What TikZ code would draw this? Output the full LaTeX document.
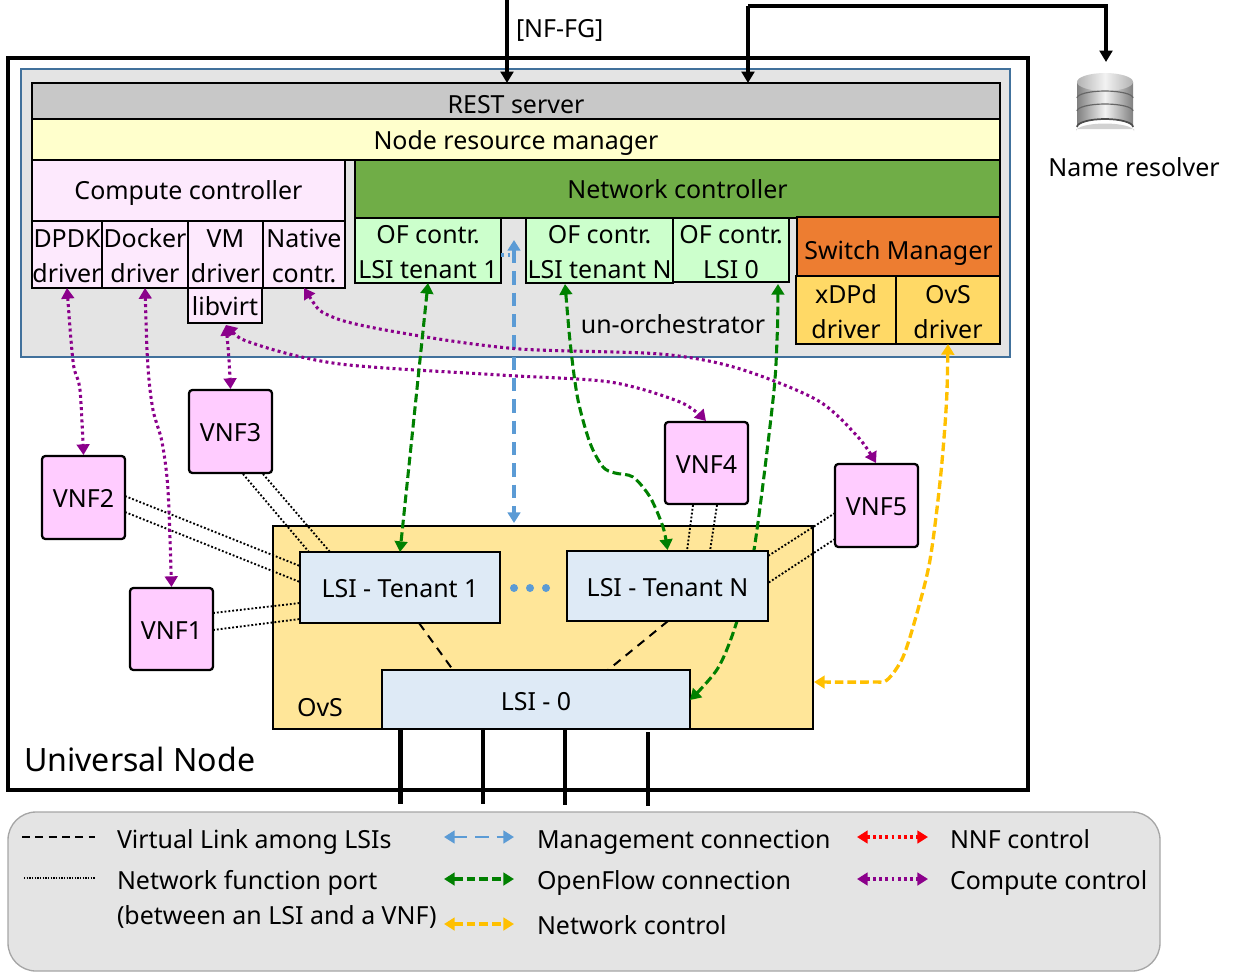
\documentclass[tikz,border=0pt]{standalone}
\usepackage{fontspec}
\setmainfont{Noto Sans}
\usetikzlibrary{arrows.meta,calc}
\definecolor{pur}{HTML}{8B008B}
\definecolor{grn}{HTML}{008000}
\definecolor{blu}{HTML}{5B9BD5}
\definecolor{yel}{HTML}{FFC000}
\definecolor{lsi}{HTML}{DEEAF6}
\definecolor{vnf}{HTML}{FFCCFF}
\definecolor{cmp}{HTML}{FDE9FD}
\definecolor{ofc}{HTML}{CCFFCC}
\definecolor{grey}{HTML}{E4E4E4}
\newcommand{\bx}[7]{\node[boxstyle,#6,minimum width={(#4-#2)*0.75pt},minimum height={(#5-#3)*0.75pt}] (#1) at ({(#2+#4)/2},{(#3+#5)/2}) {#7};}
\newcommand{\lowr}{\rule{0pt}{16.2pt}}
\tikzset{
 boxstyle/.style={draw=black,line width=1.7pt,inner sep=0pt,outer sep=0pt,align=center,font=\fontsize{18.7}{26.2}\selectfont},
 vnfbox/.style={fill=vnf,rounded corners=2.5pt,text height=15.2pt,text depth=0pt},
 lsitxt/.style={text height=15.5pt,text depth=0pt},
 lab/.style={inner sep=0pt,outer sep=0pt,font=\fontsize{18.7}{26}\selectfont},
 tipb/.style={{Triangle[length=8pt,width=9.5pt]}-{Triangle[length=8pt,width=9.5pt]}},
 compctl/.style={tipb,draw=pur,line width=2.3pt,dash pattern=on 2.2pt off 2.4pt},
 nnfctl/.style={tipb,draw=red,line width=2.3pt,dash pattern=on 2.2pt off 2.4pt},
 ofctl/.style={tipb,draw=grn,line width=2.3pt,dash pattern=on 6.5pt off 3pt},
 mgmt/.style={tipb,draw=blu,line width=2.5pt,dash pattern=on 10pt off 6pt},
 netctl/.style={tipb,draw=yel,line width=2.5pt,dash pattern=on 6.5pt off 3pt},
 nfport/.style={draw=black,line width=1.4pt,dash pattern=on 1.4pt off 1.5pt},
 vlink/.style={draw=black,line width=1.5pt,dash pattern=on 6.5pt off 5pt},
 rest/.style={-{Triangle[length=8.5pt,width=9.5pt]},draw=black,line width=2.4pt},
 phys/.style={draw=black,line width=3.7pt},
}
\begin{document}
\begin{tikzpicture}[x=0.75pt,y=-0.75pt]
\useasboundingbox (0,0) rectangle (1238,972);
% outer frames
\bx{un}{8}{58}{1028}{790}{line width=2.3pt}{}
\bx{uo}{21}{69}{1010}{357}{fill=grey,draw={rgb,255:red,65;green,113;blue,156},line width=1.6pt}{}
% top stack
\bx{restsrv}{32}{83}{1000}{119}{fill={rgb,255:red,200;green,200;blue,200}}{}
\node[lab,anchor=base] (resttxt) at (516,113) {REST server};
\bx{nrm}{32}{119}{1000}{160}{fill={rgb,255:red,255;green,255;blue,204},text height=15pt,text depth=0pt}{Node resource manager}
\bx{cc}{32}{160}{345}{221}{fill=cmp,text height=14pt,text depth=0pt}{Compute controller}
\bx{dpdk}{32}{221}{102}{288}{fill=cmp}{\lowr DPDK\\driver}
\bx{docker}{102}{221}{188}{288}{fill=cmp}{\lowr Docker\\driver}
\bx{vm}{188}{221}{263}{288}{fill=cmp}{\lowr VM\\driver}
\bx{native}{263}{221}{345}{288}{fill=cmp}{\lowr Native\\contr.}
\bx{libvirt}{188}{288}{262}{323}{fill=cmp,lsitxt}{libvirt}
\bx{nc}{355}{160}{1000}{218}{fill={rgb,255:red,112;green,173;blue,71}}{Network controller}
\bx{of1}{355}{218}{501}{283}{fill=ofc}{\lowr OF contr.\\LSI tenant 1}
\bx{ofn}{526}{218}{673}{283}{fill=ofc}{\lowr OF contr.\\LSI tenant N}
\bx{of0}{673}{218}{789}{282}{fill=ofc}{\lowr OF contr.\\LSI 0}
\bx{sm}{797}{217}{1000}{276}{fill={rgb,255:red,237;green,125;blue,49},text height=20pt,text depth=0pt}{Switch Manager}
\bx{xdpd}{796}{276}{896}{344}{fill={rgb,255:red,255;green,217;blue,102}}{\lowr xDPd\\driver}
\bx{ovsd}{896}{276}{1000}{344}{fill={rgb,255:red,255;green,217;blue,102}}{\lowr OvS\\driver}
\node[lab] (uotxt) at (673,324) {un-orchestrator};
% OvS
\bx{ovs}{273}{526}{813}{729}{fill={rgb,255:red,255;green,230;blue,153}}{}
\node[lab] (ovstxt) at (320,708) {OvS};
\node[lab,anchor=west,font=\fontsize{24.1}{28}\selectfont] (untxt) at (24,759) {Universal Node};
% VNFs
\bx{vnfthree}{189}{390}{272}{473}{vnfbox}{VNF3}
\bx{vnftwo}{42}{456}{125}{539}{vnfbox}{VNF2}
\bx{vnfone}{130}{588}{213}{670}{vnfbox}{VNF1}
\bx{vnffour}{665}{422}{748}{504}{vnfbox}{VNF4}
\bx{vnffive}{835}{464}{918}{547}{vnfbox}{VNF5}
% LSI 0 and the OpenFlow link that runs behind LSI tenant N
\bx{lsizero}{382}{670}{690}{729}{fill=lsi,text height=16pt,text depth=0pt}{LSI - 0}
\coordinate (ofzs) at (778,284);
\draw[ofctl] plot[smooth] coordinates {(ofzs) (777,340) (773,400) (754,550) (737,621) (718,668) (690,700)};
\bx{lsione}{300}{552}{500}{623}{fill=lsi,lsitxt}{LSI - Tenant 1}
\bx{lsin}{567}{551}{768}{621}{fill=lsi,lsitxt}{LSI - Tenant N}
% function ports
\draw[nfport] (243,474) -- (309,552);
\draw[nfport] (263,474) -- (330,552);
\draw[nfport] (125,496) -- (300,566);
\draw[nfport] (125,512) -- (300,582);
\draw[nfport] (213,613) -- (300,603);
\draw[nfport] (213,630) -- (300,619);
\draw[nfport] (693,505) -- (687,551);
\draw[nfport] (717,505) -- (710,551);
\draw[nfport] (835,513) -- (768,556);
\draw[nfport] (835,539) -- (768,583);
% virtual links
\coordinate (vlo) at (419,623);
\coordinate (vlz) at (453,670);
\coordinate (vln) at (668,621);
\coordinate (vlm) at (608,670);
\draw[vlink] (vlo) -- (vlz);
\draw[vlink] (vln) -- (vlm);
% dots
\foreach \x/\n in {514/a,530/b,546/c} \fill[blu] (\x,588) circle[radius=4];
% physical ports
\foreach \x/\a/\b in {400.5/729/804,483/729/804,565/729/805,648/732/806} \draw[phys] (\x,\a) -- (\x,\b);
% management
\coordinate (mgtop) at (514,240);
\coordinate (mgbot) at (514,523);
\draw[mgmt] (mgtop) -- (mgbot);
\draw[draw=blu,line width=2.4pt,dash pattern=on 2pt off 3pt] (501,255) -- (514,255);
% compute control
\coordinate (la) at (226,325);
\draw[compctl] plot[smooth] coordinates {(dpdk.south) (71,340) (74,368) (80,390) (83.5,455)};
\draw[compctl] plot[smooth] coordinates {(docker.south) (148,367) (153,410) (162,442) (168,490) (171.5,587)};
\draw[compctl] plot[smooth] coordinates {(la) (229,360) (230.5,389)};
\draw[compctl] plot[smooth] coordinates {(la) (255,344) (340,364) (500,375) (610,382) (680,402) (706,421)};
\draw[compctl] plot[smooth] coordinates {(native.south) (335,318) (420,336) (520,349) (660,354) (737,368) (817,400) (858,437) (876,463)};
% openflow
\draw[ofctl] (of1.south) -- (lsione.north);
\coordinate (ofns) at (565,284);
\draw[ofctl] plot[smooth] coordinates {(ofns) (571,350) (578,400) (590,443) (603,467) (615,473) (633,477) (650,497) (663,527) (667.5,550)};
% network control
\coordinate (ovse) at (814,682);
\draw[netctl] plot[smooth] coordinates {(ovsd.south) (946,410) (940,482) (930,560) (917,613) (903,657) (887,680) (872,682) (ovse)};
% REST arrows
\coordinate (nftop) at (507,0);
\coordinate (reste) at (507,83);
\coordinate (nrtop) at (748,6);
\coordinate (restf) at (748,83);
\coordinate (dbtop) at (1106,62);
\draw[rest] (nftop) -- (reste);
\draw[rest] (nrtop) -- (restf);
\draw[rest,line join=miter] (nrtop) -- (1106,6) -- (dbtop);
\node[lab,anchor=base west] (nffg) at (516,37) {[NF-FG]};
% database
\fill[black!18] (1076,129) -- (1076,131) arc[start angle=180,end angle=360,x radius=29,y radius=7.5] -- (1134,129) -- cycle;
\path[left color=black!50,right color=black!50,middle color=black!5] (1077,82) -- (1077,127) arc[start angle=180,end angle=360,x radius=28,y radius=8] -- (1133,82) -- cycle;
\path[left color=black!30,right color=black!30,middle color=black!5] (1105,82) ellipse[x radius=28,y radius=9];
\draw[black!60,line width=0.9pt] (1077,98) arc[start angle=180,end angle=360,x radius=28,y radius=7];
\draw[black!60,line width=0.9pt] (1077,111) arc[start angle=180,end angle=360,x radius=28,y radius=7];
\draw[black!70,line width=1.3pt] (1077,127) arc[start angle=180,end angle=360,x radius=28,y radius=8];
\node[lab,anchor=base] (nr) at (1134,176) {Name resolver};
% legend
\draw[fill=grey,draw={rgb,255:red,166;green,166;blue,166},line width=1pt,rounded corners=21pt] (8,812) rectangle (1160,971);
\coordinate (lga) at (22,837); \coordinate (lgb) at (95,837);
\coordinate (lgc) at (24,878); \coordinate (lgd) at (95,878);
\coordinate (lge) at (444,837); \coordinate (lgf) at (514,837);
\coordinate (lgg) at (444,879); \coordinate (lgh) at (514,879);
\coordinate (lgi) at (444,924); \coordinate (lgj) at (514,924);
\coordinate (lgk) at (857,837); \coordinate (lgl) at (928,837);
\coordinate (lgm) at (857,879); \coordinate (lgn) at (928,879);
\draw[vlink,line width=1pt,dash pattern=on 6pt off 4pt] (lga) -- (lgb);
\draw[nfport,line width=1pt,dash pattern=on 1pt off 1pt] (lgc) -- (lgd);
\draw[mgmt,line width=2.2pt] (lge) -- (lgf);
\draw[ofctl] (lgg) -- (lgh);
\draw[netctl] (lgi) -- (lgj);
\draw[nnfctl] (lgk) -- (lgl);
\draw[compctl] (lgm) -- (lgn);
\node[lab,anchor=base west] (ta) at (117,848) {Virtual Link among LSIs};
\node[lab,anchor=base west] (tb) at (117,889) {Network function port};
\node[lab,anchor=base west] (tc) at (117,924.5) {(between an LSI and a VNF)};
\node[lab,anchor=base west] (td) at (537,848) {Management connection};
\node[lab,anchor=base west] (te) at (537,889) {OpenFlow connection};
\node[lab,anchor=base west] (tf) at (537,934) {Network control};
\node[lab,anchor=base west] (tg) at (950,848) {NNF control};
\node[lab,anchor=base west] (th) at (950,889) {Compute control};
\end{tikzpicture}
\end{document}
